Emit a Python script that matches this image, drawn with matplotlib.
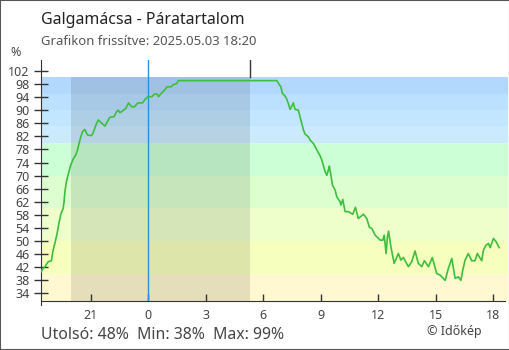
import numpy as np
import matplotlib
matplotlib.use('Agg')
import matplotlib.pyplot as plt
from matplotlib.patches import Rectangle

plt.rcParams['font.family'] = ['Noto Sans', 'DejaVu Sans']

# hours relative to midnight (negative = previous evening)
hours = [-5.67, -5.49, -5.37, -5.23, -5.06, -4.97, -4.88, -4.76, -4.67, -4.57,
         -4.45, -4.40, -4.36, -4.28, -4.19, -4.10, -4.02, -3.93, -3.79, -3.70,
         -3.62, -3.53, -3.44, -3.32, -3.18, -2.97, -2.88, -2.76, -2.62, -2.45,
         -2.27, -2.15, -2.01, -1.79, -1.67, -1.58, -1.48, -1.30, -1.18, -1.04,
         -0.87, -0.73, -0.55, -0.31, -0.17, -0.03, 0.18, 0.31, 0.44, 0.52,
         0.70, 0.87, 0.96, 1.18, 1.30, 1.48, 1.56, 6.70, 6.78, 6.91,
         6.99, 7.13, 7.22, 7.30, 7.39, 7.48, 7.56, 7.65, 7.82, 7.91,
         8.00, 8.09, 8.17, 8.35, 8.44, 8.61, 8.79, 8.96, 9.05, 9.10,
         9.22, 9.31, 9.39, 9.44, 9.53, 9.60, 9.74, 9.83, 10.00, 10.04,
         10.14, 10.26, 10.43, 10.66, 10.80, 10.95, 11.22, 11.39, 11.53, 11.65,
         11.83, 12.09, 12.23, 12.30, 12.40, 12.47, 12.53, 12.65, 12.82, 13.04,
         13.17, 13.30, 13.56, 13.74, 13.91, 14.08, 14.26, 14.40, 14.61, 14.81,
         15.04, 15.22, 15.48, 15.65, 15.83, 16.00, 16.17, 16.30, 16.40, 16.52,
         16.69, 16.87, 17.04, 17.16, 17.39, 17.48, 17.62, 17.74, 17.83, 18.00,
         18.14, 18.30]

humidity = [40, 41.7, 42.4, 43.7, 44, 47.3, 49.3, 52.4, 55.4, 58.2,
            60, 62, 65, 68.1, 70.2, 72.2, 73.7, 75, 76.3, 77.8,
            79.8, 81.8, 83.4, 84.1, 82.4, 82.2, 83.1, 85.1, 87, 86.1,
            85.1, 86.4, 87.8, 88, 89.5, 90, 89.2, 90, 90.5, 92.2,
            91, 91, 92.2, 92.2, 93.3, 94.1, 94.1, 94.9, 94.9, 94.1,
            95.3, 96.3, 97.1, 97.1, 97.8, 98.1, 99, 99, 98.2, 97.1,
            95.1, 94.3, 93.3, 92, 90.2, 91.2, 92.2, 90.2, 90, 88,
            86, 83.9, 82.7, 81.8, 80.8, 79.8, 77.8, 76, 74.7, 73.7,
            71.2, 70.1, 71.7, 72.9, 69.8, 67.1, 65.6, 63.5, 62, 61,
            62.7, 59, 59, 58.2, 60.3, 56.9, 58.2, 56.9, 54.2, 53.9,
            51.8, 50.3, 50.3, 51.8, 46.2, 51.3, 53, 48.3, 43.2, 46.2,
            44.2, 45, 42.2, 43.7, 47, 43.2, 42.2, 44, 42.2, 45,
            40.1, 39.6, 38, 41.7, 44.7, 38.6, 39.1, 38, 41.1, 44.2,
            46.2, 44, 44, 46.2, 44, 47.3, 48.8, 49.3, 48, 50.8,
            49.8, 48]

# background bands: (lower, upper, colour)
band_edges = [0, 40, 50, 60, 70, 80, 85, 90, 95, 100]
band_colors = ['#fff8d0', '#f7ffbe', '#eeffcc', '#ddffd0', '#ccffd6',
               '#cceaff', '#c2e6ff', '#bce0ff', '#b3d8fe']

sunset = -4.03
sunrise = 5.30

xticks = [-3, 0, 3, 6, 9, 12, 15, 18]
xlabels = ['21', '0', '3', '6', '9', '12', '15', '18']
yticks = list(range(34, 103, 4))

fig = plt.figure(figsize=(5.1, 3.5), dpi=100)
ax = fig.add_axes([40.7 / 510, 49.3 / 350, (508 - 40.7) / 510, (300.7 - 60) / 350])

x0, x1 = -5.62, 18.76
y0, y1 = 31.8, 105.3
ax.set_xlim(x0, x1)
ax.set_ylim(y0, y1)

for i in range(len(band_colors)):
    ax.axhspan(band_edges[i], band_edges[i + 1], color=band_colors[i], lw=0, zorder=0)

# night
ax.axvspan(sunset, sunrise, ymax=(100 - y0) / (y1 - y0), color='black', alpha=0.1, lw=0, zorder=1)
ax.plot([sunrise, sunrise], [100, y1], color='#333333', lw=1, zorder=2)
ax.axvline(0, color='#2b8fde', lw=1, zorder=2)

ax.plot(hours, humidity, color='#3cbf3c', lw=1.2, zorder=3)

for side in ['top', 'right']:
    ax.spines[side].set_visible(False)
ax.spines['left'].set_color('#333333')
ax.spines['bottom'].set_color('#333333')
ax.spines['left'].set_bounds(y0 - 1.4, y1)
ax.spines['bottom'].set_bounds(x0, 18.61)

ax.set_xticks(xticks)
ax.set_xticklabels(xlabels)
ax.set_yticks(yticks)
ax.tick_params(axis='x', direction='in', length=5, width=1, color='#333333',
               labelsize=9, labelcolor='#444444', pad=6)
ax.tick_params(axis='y', direction='inout', length=10, width=1, color='#333333',
               labelsize=9, labelcolor='#444444', pad=3)

fig.text(40.7 / 510, 1 - 24 / 350, 'Galgamácsa - Páratartalom', fontsize=11.5,
         color='#222222', ha='left', va='baseline')
fig.text(40.7 / 510, 1 - 45 / 350, 'Grafikon frissítve: 2025.05.03 18:20', fontsize=9.4,
         color='#555555', ha='left', va='baseline')
fig.text(16 / 510, 1 - 52 / 350, '%', fontsize=9, color='#444444', ha='center', va='center')

last = humidity[-1]
summary = f'Utolsó: {last:.0f}%  Min: {min(humidity):.0f}%  Max: {max(humidity):.0f}%'
fig.text(40.7 / 510, 1 - 339.3 / 350, summary, fontsize=11.4, color='#444444',
         ha='left', va='baseline')
fig.text(482 / 510, 1 - 335 / 350, '© Időkép', fontsize=9, color='#444444',
         ha='right', va='baseline')

fig.patches.append(Rectangle((0, 0), 1, 1, transform=fig.transFigure, fill=False,
                             edgecolor='#555555', lw=1.5))

fig.savefig('out.png', dpi=100)
